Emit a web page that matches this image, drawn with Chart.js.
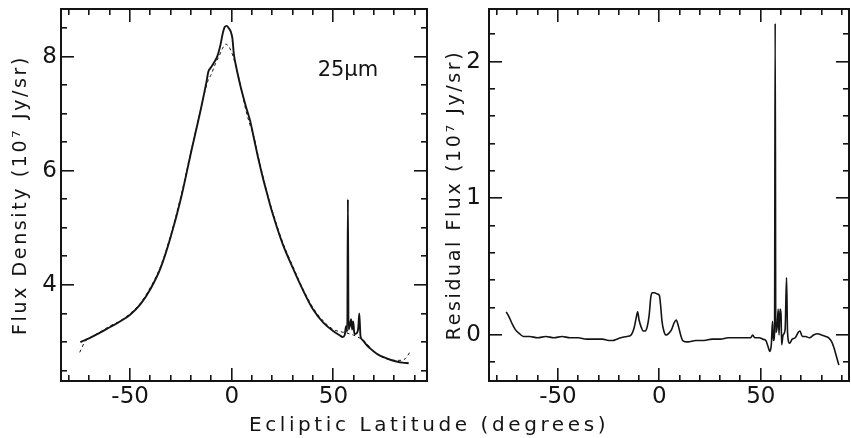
<!DOCTYPE html>
<html>
<head>
<meta charset="utf-8">
<script src="https://cdn.jsdelivr.net/npm/chart.js@4"></script>
<style>
  html, body { margin: 0; padding: 0; background: #fff; }
  #wrap { position: relative; width: 851px; height: 438px; background: #fff; }
  canvas { position: absolute; top: 0; }
  #cLeft { left: 0; }
  #cRight { left: 430px; }
</style>
</head>
<body>
<div id="wrap">
  <canvas id="cLeft" width="851" height="438"></canvas>
  <canvas id="cRight" width="421" height="438"></canvas>
</div>
<script>
// ---------- DATA ----------
// Left panel: observed 25 micron flux (solid) and model (dashed), 10^7 Jy/sr
const latObs = [-74.5,-72,-70,-65,-60,-55,-50,-45,-40,-35,-30,-25,-20,-15,-12.5,-11.5,-10.5,-9,-7,-5.5,-4.5,-3.5,-2.5,-1.5,-0.5,0.3,1,2,3.5,5,7,9,11,13,15,17.5,20,25,30,35,40,45,50,53,54.5,55.5,56.2,56.8,57.1,57.4,58,58.7,59.2,59.7,60.3,61.2,62.2,62.7,63.3,64.5,66,68,70,72,75,78,81,84,87];
const fluxObs = [3.00,3.04,3.07,3.16,3.26,3.36,3.48,3.66,3.93,4.30,4.85,5.52,6.33,7.12,7.55,7.74,7.80,7.88,8.02,8.22,8.40,8.52,8.54,8.50,8.44,8.32,8.05,7.85,7.60,7.38,7.12,6.88,6.55,6.22,5.92,5.58,5.26,4.72,4.30,3.91,3.57,3.34,3.19,3.12,3.09,3.12,3.28,3.18,5.50,3.22,3.28,3.40,3.22,3.36,3.14,3.15,3.25,3.50,3.10,3.03,2.96,2.89,2.83,2.78,2.73,2.69,2.66,2.64,2.63];

const latModel = [-74.8,-72,-70,-65,-60,-55,-50,-45,-40,-35,-30,-25,-20,-15,-12,-10,-8,-6,-4.5,-3,-1.5,0,1.5,3.5,5,7,9,11,13,15,17.5,20,25,30,35,40,45,50,55,60,65,70,75,80,84,86,87.5];
const fluxModel = [2.82,3.02,3.07,3.17,3.28,3.37,3.50,3.68,3.96,4.33,4.88,5.56,6.35,7.12,7.55,7.70,7.88,8.03,8.15,8.22,8.18,8.07,7.90,7.62,7.38,7.05,6.80,6.58,6.25,5.95,5.60,5.29,4.75,4.33,3.93,3.60,3.37,3.22,3.17,3.12,3.02,2.83,2.72,2.68,2.68,2.74,2.82];

// Right panel: residual flux, 10^7 Jy/sr
const latRes = [-75.5,-74,-72.5,-71,-69,-67,-64,-60,-56,-52,-48,-44,-40,-36,-32,-28,-25,-23,-21,-19,-16,-14,-12.5,-11.5,-10.7,-10,-9,-8,-7,-6,-5,-4.2,-3.5,-2.5,-1,0,0.6,1.3,2.2,3.3,4.5,6,7.3,8.3,9.3,10.5,11.5,14,18,22,26,30,34,38,42,45,46,47,49.3,51,52.5,53.5,54.5,55.2,55.8,56.2,56.8,57.1,57.4,58,58.6,59,59.5,60,60.3,61,62,62.7,63.2,64.2,65.5,67,68.5,69.3,70.5,72,74,76,78,80,82,83.5,85,86,87,88.5];
const resid = [0.17,0.13,0.08,0.04,0.01,-0.01,-0.01,-0.02,-0.01,-0.02,-0.01,-0.02,-0.02,-0.03,-0.03,-0.03,-0.04,-0.04,-0.03,-0.02,-0.01,0.00,0.05,0.12,0.17,0.11,0.06,0.03,0.03,0.06,0.15,0.28,0.31,0.31,0.30,0.29,0.22,0.10,0.03,0.00,0.01,0.04,0.09,0.11,0.07,0.00,-0.04,-0.05,-0.04,-0.04,-0.03,-0.03,-0.02,-0.02,-0.02,-0.02,0.00,-0.02,-0.02,-0.03,-0.04,-0.08,-0.12,-0.07,0.10,-0.04,0.02,2.28,0.02,0.05,0.19,0.00,0.19,0.15,-0.07,0.00,0.04,0.42,0.02,-0.06,-0.03,-0.02,0.02,0.03,-0.01,-0.01,-0.02,0.00,0.01,0.00,-0.01,-0.02,-0.05,-0.09,-0.14,-0.22];

// Tick labels
const xMajorTicks = [-50, 0, 50];
const yLeftMajorTicks = [4, 6, 8];
const yRightMajorTicks = [0, 1, 2];

// Text
const leftYTitle = 'Flux Density (10\u2077 Jy/sr)';
const rightYTitle = 'Residual Flux (10\u2077 Jy/sr)';
const xTitle = 'Ecliptic Latitude (degrees)';
const bandLabel = '25\u03BCm';

// ---------- STYLE ----------
const FONT = "'DejaVu Sans', 'Liberation Sans', sans-serif";
const INK = '#141414';
const SPACING = { 19: 2.6, 20: 3.6 };

function patchCtx(ctx) {
  const orig = ctx.fillText;
  ctx.fillText = function (t, x, y, mw) {
    const m = /(\d+(?:\.\d+)?)px/.exec(this.font);
    const sz = m ? parseFloat(m[1]) : 0;
    const sp = SPACING[sz] || 0;
    const has = ('letterSpacing' in this);
    if (has) this.letterSpacing = sp + 'px';
    if (mw === undefined) orig.call(this, t, x, y); else orig.call(this, t, x, y, mw);
    if (has) this.letterSpacing = '0px';
  };
}

function pts(xs, ys) { return xs.map((x, i) => ({ x: x, y: ys[i] })); }

// Inward tick marks + frame, positions from the chart's own scales
function frameTicks(xMinorStep, yMinorStep, xMajor, yMajor) {
  return {
    id: 'frameTicks',
    afterDraw(chart) {
      const ctx = chart.ctx, ca = chart.chartArea;
      const xs = chart.scales.x, ys = chart.scales.y;
      ctx.save();
      ctx.setLineDash([]);
      ctx.fillStyle = INK;
      const L = Math.round(ca.left), R = Math.round(ca.right), T = Math.round(ca.top), B = Math.round(ca.bottom);
      const w = 2;
      ctx.fillRect(L - 1, T - 1, R - L + 2, w);
      ctx.fillRect(L - 1, B - 1, R - L + 2, w);
      ctx.fillRect(L - 1, T - 1, w, B - T + 2);
      ctx.fillRect(R - 1, T - 1, w, B - T + 2);
      const n0 = Math.ceil(xs.min / xMinorStep), n1 = Math.floor(xs.max / xMinorStep);
      for (let n = n0; n <= n1; n++) {
        const vv = n * xMinorStep;
        const p = Math.round(xs.getPixelForValue(vv));
        const len = xMajor.indexOf(vv) >= 0 ? 13 : 6;
        ctx.fillRect(p - 1, B - len, 1.6, len);
        ctx.fillRect(p - 1, T, 1.6, len);
      }
      const m0 = Math.ceil(ys.min / yMinorStep - 1e-6), m1 = Math.floor(ys.max / yMinorStep + 1e-6);
      for (let n = m0; n <= m1; n++) {
        const vv = Math.round(n * yMinorStep * 1000) / 1000;
        const p = Math.round(ys.getPixelForValue(vv));
        const len = yMajor.indexOf(vv) >= 0 ? 13 : 6;
        ctx.fillRect(L, p - 1, len, 1.6);
        ctx.fillRect(R - len, p - 1, len, 1.6);
      }
      ctx.restore();
    }
  };
}

const bandLabelPlugin = {
  id: 'bandLabel',
  afterDraw(chart) {
    const ctx = chart.ctx;
    const px = chart.scales.x.getPixelForValue(57.1);
    const py = chart.scales.y.getPixelForValue(7.75);
    ctx.save();
    ctx.font = '21px ' + FONT;
    ctx.fillStyle = INK;
    ctx.textAlign = 'center';
    ctx.textBaseline = 'middle';
    ctx.fillText(bandLabel, px, py);
    ctx.restore();
  }
};

function tickFont(size) { return { family: FONT, size: size }; }
function noPadX(s, h) { s.height = h; s.paddingLeft = 0; s.paddingRight = 0; }
function noPadY(s, w) { s.width = w; s.paddingTop = 0; s.paddingBottom = 0; }

// ---------- LEFT CHART ----------
const ctxL = document.getElementById('cLeft').getContext('2d');
patchCtx(ctxL);
new Chart(ctxL, {
  type: 'line',
  data: {
    datasets: [
      { data: pts(latObs, fluxObs), borderColor: INK, borderWidth: 1.9, pointRadius: 0, cubicInterpolationMode: 'monotone', fill: false },
      { data: pts(latModel, fluxModel), borderColor: INK, borderWidth: 1, borderDash: [3, 3], pointRadius: 0, cubicInterpolationMode: 'monotone', fill: false }
    ]
  },
  options: {
    responsive: false, animation: false, devicePixelRatio: 1,
    layout: { padding: { left: 7, right: 0, top: 9, bottom: 0 } },
    plugins: {
      legend: { display: false }, tooltip: { enabled: false },
      title: { display: true, text: xTitle, position: 'bottom', color: INK,
               font: { family: FONT, size: 20, weight: 'normal' }, padding: { top: 0, bottom: 0 } }
    },
    scales: {
      x: {
        type: 'linear', min: -84, max: 96, position: 'bottom',
        afterBuildTicks: s => { s.ticks = xMajorTicks.map(v => ({ value: v })); },
        ticks: { font: tickFont(23), color: INK, padding: 2, maxRotation: 0, autoSkip: false },
        grid: { display: false, drawTicks: false }, border: { display: false },
        afterFit: s => noPadX(s, 33)
      },
      y: {
        type: 'linear', min: 2.318, max: 8.836, position: 'left',
        afterBuildTicks: s => { s.ticks = yLeftMajorTicks.map(v => ({ value: v })); },
        ticks: { font: tickFont(23), color: INK, padding: 4 },
        grid: { display: false, drawTicks: false }, border: { display: false },
        title: { display: true, text: leftYTitle, color: INK, font: { family: FONT, size: 19 }, padding: { top: 2.4, bottom: 0 } },
        afterFit: s => noPadY(s, 54)
      },
      yR: {
        type: 'linear', position: 'right', display: true,
        ticks: { display: false }, grid: { display: false, drawTicks: false }, border: { display: false },
        afterFit: s => noPadY(s, 424)
      }
    }
  },
  plugins: [frameTicks(10, 0.5, xMajorTicks, yLeftMajorTicks), bandLabelPlugin]
});

// ---------- RIGHT CHART ----------
const ctxR = document.getElementById('cRight').getContext('2d');
patchCtx(ctxR);
new Chart(ctxR, {
  type: 'line',
  data: {
    datasets: [
      { data: pts(latRes, resid), borderColor: INK, borderWidth: 1.6, pointRadius: 0, cubicInterpolationMode: 'monotone', fill: false }
    ]
  },
  options: {
    responsive: false, animation: false, devicePixelRatio: 1,
    layout: { padding: { left: 0, right: 2, top: 9, bottom: 0 } },
    plugins: { legend: { display: false }, tooltip: { enabled: false } },
    scales: {
      x: {
        type: 'linear', min: -84, max: 93.5, position: 'bottom',
        afterBuildTicks: s => { s.ticks = xMajorTicks.map(v => ({ value: v })); },
        ticks: { font: tickFont(23), color: INK, padding: 2, maxRotation: 0, autoSkip: false },
        grid: { display: false, drawTicks: false }, border: { display: false },
        afterFit: s => noPadX(s, 57)
      },
      y: {
        type: 'linear', min: -0.336, max: 2.385, position: 'left',
        afterBuildTicks: s => { s.ticks = yRightMajorTicks.map(v => ({ value: v })); },
        ticks: { font: tickFont(23), color: INK, padding: 8 },
        grid: { display: false, drawTicks: false }, border: { display: false },
        title: { display: true, text: rightYTitle, color: INK, font: { family: FONT, size: 19 }, padding: { top: 13.6, bottom: 0 } },
        afterFit: s => noPadY(s, 59)
      }
    }
  },
  plugins: [frameTicks(10, 0.2, xMajorTicks, yRightMajorTicks)]
});
</script>
</body>
</html>
